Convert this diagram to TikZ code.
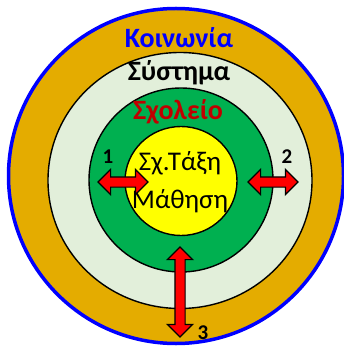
\documentclass[tikz,border=0pt]{standalone}
\usepackage{fontspec}
\setmainfont{Carlito}
\usetikzlibrary{shapes.arrows}
\definecolor{gold}{RGB}{228,172,0}
\definecolor{pale}{RGB}{226,239,218}
\definecolor{grn}{RGB}{0,176,80}
\definecolor{yel}{RGB}{255,255,0}
\definecolor{dred}{RGB}{192,0,0}
\begin{document}
\begin{tikzpicture}[x=1pt,y=-1pt,
  ring/.style={draw=black,line width=1.4pt},
  lbl/.style={font=\bfseries\fontsize{28}{28}\selectfont,inner sep=0pt},
  ctr/.style={font=\fontsize{27}{27}\selectfont,inner sep=0pt},
  num/.style={font=\bfseries\fontsize{21}{21}\selectfont,inner sep=0pt},
  darrow/.style={double arrow,draw=black,fill=red,line width=1.2pt,
    inner xsep=0pt,inner ysep=4.5pt,double arrow head extend=7.5pt,
    double arrow tip angle=90}]
\useasboundingbox (0,0) rectangle (344,347);
\fill[white] (0,0) rectangle (344,347);
\path[fill=gold,draw=blue,line width=3.5pt] (176,176) circle[radius=167.5pt];
\path[ring,fill=pale] (180,180.5) ellipse[x radius=132pt,y radius=128pt];
\path[ring,fill=grn] (181,180) circle[radius=92pt];
\path[ring,fill=yel] (181,181) ellipse[x radius=56pt,y radius=54.5pt];
\node[lbl,text=blue] (k) at (179,38) {Κοινωνία};
\node[lbl,text=black] (s) at (179,73) {Σύστημα};
\node[lbl,text=dred] (sch) at (178,112) {Σχολείο};
\node[ctr] (t) at (180,163) {Σχ.Τάξη};
\node[ctr] (m) at (180,201) {Μάθηση};
\node[darrow,minimum height=50pt] (a1) at (123,182) {};
\node[darrow,minimum height=50pt] (a2) at (273,182) {};
\node[darrow,minimum height=90pt,rotate=90] (a3) at (180,292) {};
\node[num] (n1) at (108,157) {1};
\node[num] (n2) at (287,157) {2};
\node[num] (n3) at (203,333) {3};
\end{tikzpicture}
\end{document}
